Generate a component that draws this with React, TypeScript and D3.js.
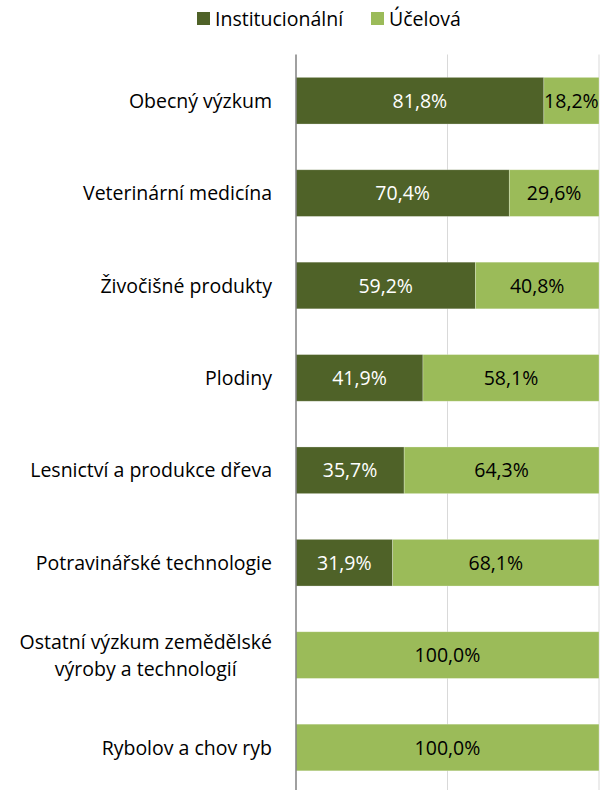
import { useEffect, useRef } from "react";
import * as d3 from "d3";

const categories = [
  ["Obecný výzkum"],
  ["Veterinární medicína"],
  ["Živočišné produkty"],
  ["Plodiny"],
  ["Lesnictví a produkce dřeva"],
  ["Potravinářské technologie"],
  ["Ostatní výzkum zemědělské", "výroby a technologií"],
  ["Rybolov a chov ryb"],
];
const institucionalni = [81.8, 70.4, 59.2, 41.9, 35.7, 31.9, 0, 0];
const ucelova = [18.2, 29.6, 40.8, 58.1, 64.3, 68.1, 100, 100];
const seriesNames = ["Institucionální", "Účelová"];
const colors = ["#4f6228", "#9bbb59"];
const labelColors = ["#ffffff", "#000000"];

const fmt = (v: number) => v.toFixed(1).replace(".", ",") + "%";

export default function App() {
  const svgRef = useRef<SVGSVGElement>(null);

  useEffect(() => {
    const width = 608,
      height = 790;
    const marginLeft = 296,
      marginRight = 9,
      marginTop = 54.5;
    const font = "'Open Sans', sans-serif";
    const fs = 19.5;

    const svg = d3.select(svgRef.current).attr("width", width).attr("height", height);
    svg.selectAll("*").remove();

    const keys = categories.map((c) => c.join(" "));
    const y = d3
      .scaleBand()
      .domain(keys)
      .range([marginTop, marginTop + 8 * 92.4])
      .paddingInner(0.495)
      .paddingOuter(0.2475);
    const x = d3.scaleLinear().domain([0, 100]).range([marginLeft, width - marginRight]);

    // gridlines
    svg
      .append("g")
      .selectAll("line")
      .data([50, 100])
      .join("line")
      .attr("x1", (d) => x(d))
      .attr("x2", (d) => x(d))
      .attr("y1", marginTop)
      .attr("y2", height)
      .attr("stroke", "#d9d9d9")
      .attr("stroke-width", 1);

    // stacked bars
    const rows = keys.map((k, i) => ({ key: k, a: institucionalni[i], b: ucelova[i] }));
    rows.forEach((r) => {
      const segs = [
        { x0: 0, x1: r.a, v: r.a, s: 0 },
        { x0: r.a, x1: r.a + r.b, v: r.b, s: 1 },
      ].filter((d) => d.v > 0);
      const g = svg.append("g");
      g.selectAll("rect")
        .data(segs)
        .join("rect")
        .attr("x", (d) => x(d.x0))
        .attr("width", (d) => x(d.x1) - x(d.x0))
        .attr("y", y(r.key)!)
        .attr("height", y.bandwidth())
        .attr("fill", (d) => colors[d.s])
        .attr("stroke", "#ffffff")
        .attr("stroke-opacity", 0.35)
        .attr("stroke-width", 0.75);
      g.selectAll("text")
        .data(segs)
        .join("text")
        .attr("x", (d) => (x(d.x0) + x(d.x1)) / 2)
        .attr("y", y(r.key)! + y.bandwidth() / 2)
        .attr("dy", "0.36em")
        .attr("text-anchor", "middle")
        .attr("font-family", font)
        .attr("font-size", fs)
        .attr("fill", (d) => labelColors[d.s])
        .text((d) => fmt(d.v));
    });

    // axis line
    svg
      .append("line")
      .attr("x1", marginLeft)
      .attr("x2", marginLeft)
      .attr("y1", marginTop)
      .attr("y2", height)
      .attr("stroke", "#808080")
      .attr("stroke-width", 1.5);

    // category labels
    const labelRight = 272;
    categories.forEach((lines, i) => {
      const cy = y(keys[i])! + y.bandwidth() / 2;
      const t = svg
        .append("text")
        .attr("font-family", font)
        .attr("font-size", fs)
        .attr("fill", "#000");
      lines.forEach((ln, j) => {
        t.append("tspan")
          .attr("y", cy + (j - (lines.length - 1) / 2) * 27)
          .attr("dy", "0.36em")
          .text(ln);
      });
      const tspans = t.selectAll<SVGTSpanElement, unknown>("tspan").nodes();
      const maxW = d3.max(tspans, (n) => n.getComputedTextLength()) || 0;
      t.attr("text-anchor", lines.length > 1 ? "middle" : "end");
      tspans.forEach((n) =>
        d3.select(n).attr("x", lines.length > 1 ? labelRight - maxW / 2 : labelRight)
      );
    });

    // legend
    const legend = svg.append("g");
    const lx = [197, 371];
    seriesNames.forEach((name, i) => {
      legend
        .append("rect")
        .attr("x", lx[i])
        .attr("y", 12)
        .attr("width", 13)
        .attr("height", 13)
        .attr("fill", colors[i]);
      legend
        .append("text")
        .attr("x", lx[i] + 18)
        .attr("y", 18.5)
        .attr("dy", "0.36em")
        .attr("font-family", font)
        .attr("font-size", fs)
        .text(name);
    });
  }, []);

  return (
    <div style={{ position: "absolute", left: 0, top: 0 }}>
      <svg ref={svgRef}></svg>
    </div>
  );
}
